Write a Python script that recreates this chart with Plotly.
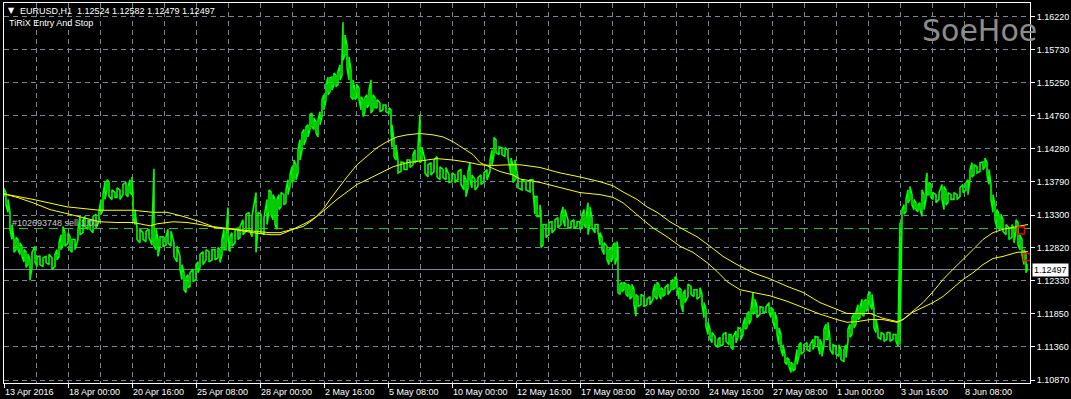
import plotly.graph_objects as go

# ---------------- data ----------------
bar = [0,2,4,6,8,10,12,14,16,18,
       20,22,24,26,28,31,33,36,39,42,
       45,48,51,53,55,57,59,61,64,66,
       68,71,74,76,79,81,84,86,89,92,
       95,97,99,101,103,105,108,111,113,116,
       119,122,124,126,128,129,131,133,136,139,
       142,145,148,150,152,154,156,159,162,164,
       167,170,173,176,178,180,182,184,186,189,
       192,194,196,199,202,205,208,211,214,216,
       218,220,222,224,226,228,231,234,236,239,
       242,245,248,252,254,257,260,263,265,267,
       269,271,273,275,277,280,282,284,286,288,
       290,292,294,296,298,300,302,304,306,308,
       310,312,314,316,318,320,322,324,326,328,
       330,332,334,336,338,339,341,343,345,347,
       349,351,353,355,357,359,361,363,365,367,
       369,371,373,376,379,382,385,387,388,390,
       392,394,397,400,403,406,409,411,414,416,
       418,421,424,427,430,433,436,439,442,445,
       448,451,454,457,460,462,464,466,468,471,
       474,477,480,483,486,488,490,492,495,498,
       501,504,507,509,511,514,518,522,526,529,
       531,533,536,537,539,542,545,548,551,554,
       557,559,561,564,567,570,573,576,578,580,
       582,584,586,588,591,594,596,598,600,603,
       605,607,609,611,613,614,616,618,620,622,
       624,626,628,630,632,634,637,640,643,646,
       649,651,653,655,657,659,661,664,667,669,
       671,673,675,677,679,681,684,687,690,693,
       696,698,700,702,704,706,708,711,714,716,
       719,722,725,727,729,732,734,737,739,741,
       743,745,747,749,751,753,756,759,762,765,
       767,769,771,773,775,777,779,781,783,785,
       787,789,791,793,795,797,800,803,806,809,
       811,814,816,818,820,822,824,826,829,832,
       835,837,840,842,844,846,848,850,852,854,
       856,858,860,862,864,866,868,870,872,874,
       877,880,883,886,889,892,894,896,898,900,
       902,904,906,908,910,912,914,916,918,920,
       922,923,925,927,929,932,935,938,940,942,
       944,947,950,953,956,959,962,964,966,968,
       970,973,976,979,981,983,985,987,989,991,
       993,995,997,999,1002,1005,1008,1010,1012,1014,
       1016,1018,1020,1022,1023]

high = [1.1369,1.1363,1.1353,1.1334,1.1316,1.1294,1.1297,1.1294,1.1289,1.1284,
        1.1279,1.1276,1.1272,1.1264,1.1275,1.1284,1.1269,1.1269,1.1267,1.1269,
        1.1272,1.1267,1.1272,1.1279,1.1289,1.1301,1.1313,1.1304,1.1304,1.1298,
        1.1294,1.1294,1.1309,1.1328,1.1323,1.1328,1.1323,1.1320,1.1328,1.1331,
        1.1335,1.1353,1.1360,1.1379,1.1382,1.1379,1.1367,1.1363,1.1370,1.1367,
        1.1375,1.1378,1.1372,1.1382,1.1386,1.1360,1.1338,1.1311,1.1309,1.1304,
        1.1306,1.1309,1.1309,1.1398,1.1309,1.1294,1.1298,1.1298,1.1298,1.1309,
        1.1306,1.1289,1.1284,1.1269,1.1257,1.1245,1.1238,1.1242,1.1245,1.1250,
        1.1257,1.1261,1.1272,1.1276,1.1279,1.1276,1.1279,1.1279,1.1282,1.1279,
        1.1294,1.1309,1.1301,1.1341,1.1298,1.1304,1.1309,1.1311,1.1313,1.1323,
        1.1331,1.1334,1.1328,1.1363,1.1334,1.1331,1.1326,1.1353,1.1367,1.1364,
        1.1360,1.1353,1.1353,1.1360,1.1363,1.1360,1.1367,1.1382,1.1389,1.1401,
        1.1411,1.1404,1.1426,1.1441,1.1451,1.1456,1.1460,1.1463,1.1478,1.1480,
        1.1473,1.1467,1.1470,1.1482,1.1500,1.1507,1.1522,1.1533,1.1532,1.1533,
        1.1539,1.1536,1.1541,1.1551,1.1561,1.1614,1.1595,1.1580,1.1563,1.1544,
        1.1529,1.1514,1.1522,1.1517,1.1504,1.1500,1.1503,1.1507,1.1514,1.1529,
        1.1507,1.1503,1.1500,1.1495,1.1492,1.1492,1.1488,1.1485,1.1463,1.1441,
        1.1433,1.1411,1.1408,1.1407,1.1411,1.1411,1.1419,1.1426,1.1430,1.1478,
        1.1430,1.1411,1.1404,1.1407,1.1411,1.1416,1.1401,1.1397,1.1400,1.1389,
        1.1392,1.1389,1.1394,1.1397,1.1389,1.1382,1.1394,1.1407,1.1389,1.1382,
        1.1385,1.1389,1.1392,1.1397,1.1411,1.1426,1.1444,1.1441,1.1430,1.1429,
        1.1429,1.1426,1.1414,1.1404,1.1411,1.1385,1.1382,1.1378,1.1382,1.1382,
        1.1357,1.1357,1.1345,1.1334,1.1316,1.1316,1.1319,1.1320,1.1323,1.1326,
        1.1331,1.1342,1.1338,1.1323,1.1320,1.1323,1.1320,1.1320,1.1331,1.1338,
        1.1326,1.1348,1.1342,1.1326,1.1316,1.1316,1.1304,1.1297,1.1289,1.1284,
        1.1279,1.1282,1.1286,1.1289,1.1291,1.1279,1.1228,1.1231,1.1231,1.1228,
        1.1228,1.1225,1.1228,1.1220,1.1213,1.1210,1.1213,1.1210,1.1206,1.1210,
        1.1217,1.1228,1.1231,1.1228,1.1223,1.1220,1.1223,1.1228,1.1231,1.1235,
        1.1239,1.1235,1.1223,1.1220,1.1213,1.1220,1.1228,1.1225,1.1220,1.1220,
        1.1223,1.1213,1.1201,1.1191,1.1172,1.1162,1.1157,1.1151,1.1147,1.1150,
        1.1154,1.1157,1.1154,1.1154,1.1150,1.1159,1.1164,1.1162,1.1169,1.1179,
        1.1184,1.1188,1.1191,1.1216,1.1206,1.1195,1.1195,1.1194,1.1195,1.1201,
        1.1194,1.1191,1.1187,1.1176,1.1164,1.1154,1.1139,1.1125,1.1120,1.1117,
        1.1113,1.1110,1.1113,1.1132,1.1139,1.1142,1.1139,1.1142,1.1139,1.1147,
        1.1151,1.1150,1.1147,1.1139,1.1162,1.1169,1.1172,1.1147,1.1139,1.1137,
        1.1139,1.1132,1.1132,1.1139,1.1162,1.1169,1.1179,1.1184,1.1187,1.1198,
        1.1194,1.1206,1.1203,1.1206,1.1213,1.1217,1.1213,1.1191,1.1176,1.1162,
        1.1157,1.1154,1.1157,1.1157,1.1154,1.1154,1.1150,1.1319,1.1338,1.1345,
        1.1353,1.1367,1.1372,1.1360,1.1353,1.1348,1.1345,1.1348,1.1367,1.1360,
        1.1382,1.1392,1.1378,1.1375,1.1363,1.1360,1.1363,1.1375,1.1372,1.1367,
        1.1363,1.1360,1.1363,1.1360,1.1370,1.1375,1.1378,1.1382,1.1397,1.1407,
        1.1404,1.1401,1.1407,1.1408,1.1414,1.1407,1.1397,1.1375,1.1360,1.1345,
        1.1338,1.1331,1.1331,1.1323,1.1316,1.1311,1.1316,1.1309,1.1323,1.1319,
        1.1301,1.1294,1.1279,1.1272,1.1258]

low = [1.1357,1.1345,1.1334,1.1309,1.1294,1.1275,1.1279,1.1279,1.1272,1.1269,
       1.1261,1.1253,1.1257,1.1234,1.1253,1.1261,1.1254,1.1257,1.1254,1.1260,
       1.1257,1.1250,1.1254,1.1264,1.1269,1.1279,1.1286,1.1284,1.1289,1.1279,
       1.1275,1.1279,1.1294,1.1301,1.1304,1.1313,1.1309,1.1309,1.1304,1.1311,
       1.1320,1.1331,1.1338,1.1353,1.1367,1.1357,1.1353,1.1356,1.1356,1.1353,
       1.1360,1.1360,1.1357,1.1363,1.1360,1.1326,1.1316,1.1294,1.1289,1.1294,
       1.1291,1.1297,1.1286,1.1284,1.1279,1.1269,1.1284,1.1284,1.1286,1.1289,
       1.1284,1.1269,1.1261,1.1250,1.1235,1.1220,1.1216,1.1223,1.1225,1.1232,
       1.1235,1.1245,1.1253,1.1257,1.1264,1.1261,1.1264,1.1264,1.1267,1.1260,
       1.1272,1.1279,1.1279,1.1294,1.1276,1.1284,1.1289,1.1294,1.1297,1.1301,
       1.1306,1.1309,1.1298,1.1275,1.1309,1.1304,1.1301,1.1316,1.1335,1.1331,
       1.1323,1.1316,1.1309,1.1338,1.1342,1.1345,1.1348,1.1360,1.1372,1.1378,
       1.1382,1.1382,1.1392,1.1411,1.1426,1.1433,1.1441,1.1445,1.1456,1.1460,
       1.1456,1.1451,1.1445,1.1463,1.1475,1.1485,1.1500,1.1507,1.1511,1.1514,
       1.1522,1.1519,1.1522,1.1529,1.1536,1.1558,1.1566,1.1548,1.1529,1.1504,
       1.1500,1.1500,1.1503,1.1500,1.1485,1.1475,1.1482,1.1488,1.1492,1.1480,
       1.1485,1.1488,1.1488,1.1482,1.1485,1.1482,1.1480,1.1456,1.1430,1.1416,
       1.1411,1.1392,1.1394,1.1397,1.1397,1.1400,1.1404,1.1407,1.1411,1.1407,
       1.1411,1.1392,1.1386,1.1389,1.1394,1.1386,1.1382,1.1385,1.1382,1.1378,
       1.1379,1.1378,1.1382,1.1375,1.1367,1.1357,1.1370,1.1382,1.1370,1.1367,
       1.1372,1.1375,1.1378,1.1382,1.1394,1.1404,1.1419,1.1422,1.1419,1.1419,
       1.1416,1.1414,1.1389,1.1378,1.1382,1.1370,1.1367,1.1367,1.1364,1.1367,
       1.1331,1.1328,1.1328,1.1282,1.1286,1.1297,1.1301,1.1304,1.1309,1.1311,
       1.1316,1.1323,1.1313,1.1311,1.1311,1.1311,1.1313,1.1309,1.1311,1.1316,
       1.1311,1.1301,1.1316,1.1311,1.1304,1.1306,1.1286,1.1279,1.1272,1.1264,
       1.1257,1.1261,1.1267,1.1257,1.1267,1.1216,1.1213,1.1217,1.1220,1.1213,
       1.1210,1.1206,1.1210,1.1198,1.1181,1.1195,1.1198,1.1195,1.1198,1.1198,
       1.1206,1.1210,1.1206,1.1213,1.1206,1.1210,1.1213,1.1213,1.1220,1.1220,
       1.1223,1.1220,1.1206,1.1198,1.1187,1.1201,1.1210,1.1213,1.1210,1.1206,
       1.1210,1.1198,1.1179,1.1166,1.1154,1.1147,1.1142,1.1139,1.1135,1.1137,
       1.1139,1.1144,1.1139,1.1135,1.1132,1.1142,1.1150,1.1147,1.1154,1.1162,
       1.1164,1.1169,1.1176,1.1184,1.1187,1.1179,1.1184,1.1187,1.1187,1.1187,
       1.1179,1.1173,1.1162,1.1154,1.1139,1.1132,1.1122,1.1113,1.1110,1.1107,
       1.1098,1.1100,1.1103,1.1110,1.1122,1.1125,1.1129,1.1132,1.1129,1.1132,
       1.1139,1.1137,1.1125,1.1122,1.1139,1.1147,1.1147,1.1132,1.1125,1.1125,
       1.1122,1.1117,1.1114,1.1120,1.1144,1.1150,1.1154,1.1164,1.1169,1.1176,
       1.1179,1.1184,1.1181,1.1188,1.1191,1.1198,1.1191,1.1164,1.1157,1.1150,
       1.1147,1.1144,1.1147,1.1144,1.1147,1.1144,1.1137,1.1139,1.1320,1.1331,
       1.1335,1.1348,1.1353,1.1345,1.1338,1.1338,1.1335,1.1338,1.1328,1.1338,
       1.1353,1.1360,1.1360,1.1356,1.1353,1.1348,1.1353,1.1353,1.1338,1.1345,
       1.1348,1.1353,1.1353,1.1353,1.1357,1.1363,1.1367,1.1360,1.1382,1.1386,
       1.1389,1.1392,1.1394,1.1397,1.1401,1.1389,1.1375,1.1353,1.1334,1.1323,
       1.1311,1.1309,1.1311,1.1306,1.1301,1.1294,1.1297,1.1289,1.1306,1.1286,
       1.1279,1.1272,1.1257,1.1245,1.1248]

ma_fast_bar = [0,13,29,46,63,79,96,113,129,146,
               153,169,183,196,213,229,249,266,276,289,
               299,309,319,326,333,343,353,363,373,383,
               393,403,416,429,439,449,459,469,476,486,
               496,509,516,536,556,576,596,609,619,629,
               639,649,663,676,689,703,713,723,736,749,
               766,783,799,816,833,843,853,866,879,893,
               899,909,919,929,939,949,959,969,979,989,
               999,1013,1024]
ma_fast = [1.1361,1.1356,1.1348,1.1338,1.1332,1.1326,1.1320,1.1319,1.1319,1.1314,
           1.1317,1.1320,1.1319,1.1316,1.1311,1.1309,1.1306,1.1304,1.1304,1.1309,
           1.1313,1.1323,1.1338,1.1353,1.1367,1.1386,1.1404,1.1416,1.1429,1.1438,
           1.1445,1.1448,1.1450,1.1448,1.1445,1.1438,1.1429,1.1419,1.1407,1.1400,
           1.1394,1.1389,1.1383,1.1378,1.1370,1.1363,1.1360,1.1356,1.1348,1.1335,
           1.1323,1.1311,1.1298,1.1284,1.1275,1.1260,1.1247,1.1232,1.1220,1.1216,
           1.1211,1.1203,1.1194,1.1184,1.1176,1.1172,1.1173,1.1176,1.1176,1.1172,
           1.1176,1.1188,1.1201,1.1217,1.1235,1.1250,1.1264,1.1279,1.1294,1.1304,
           1.1309,1.1313,1.1316]

ma_slow_bar = [0,29,63,96,129,149,163,179,196,209,
               229,249,266,276,289,303,313,323,333,343,
               353,363,376,389,403,416,433,449,463,476,
               489,506,516,536,556,576,596,609,619,633,
               643,653,666,679,693,706,719,733,749,766,
               783,799,816,833,843,853,866,879,893,899,
               909,919,929,939,949,959,969,979,989,999,
               1013,1024]
ma_slow = [1.1361,1.1353,1.1342,1.1337,1.1337,1.1334,1.1334,1.1328,1.1320,1.1313,
           1.1309,1.1304,1.1301,1.1301,1.1309,1.1319,1.1328,1.1341,1.1353,1.1364,
           1.1375,1.1382,1.1392,1.1401,1.1407,1.1410,1.1413,1.1411,1.1408,1.1404,
           1.1403,1.1404,1.1404,1.1400,1.1392,1.1386,1.1379,1.1373,1.1364,1.1353,
           1.1342,1.1334,1.1320,1.1309,1.1298,1.1284,1.1269,1.1257,1.1245,1.1236,
           1.1225,1.1216,1.1201,1.1191,1.1185,1.1185,1.1185,1.1178,1.1173,1.1176,
           1.1187,1.1194,1.1201,1.1210,1.1223,1.1235,1.1245,1.1257,1.1266,1.1269,
           1.1275,1.1276]

xtick_bars = [0, 64, 128, 192, 256, 320, 384, 448, 512, 576, 640, 704, 768, 832, 896, 960]
xtick_labels = ["13 Apr 2016", "18 Apr 00:00", "20 Apr 16:00", "25 Apr 08:00",
                "28 Apr 00:00", "2 May 16:00", "5 May 08:00", "10 May 00:00",
                "12 May 16:00", "17 May 08:00", "20 May 00:00", "24 May 16:00",
                "27 May 08:00", "1 Jun 00:00", "3 Jun 16:00", "8 Jun 08:00"]
price_ticks = [1.10870, 1.11360, 1.11850, 1.12330, 1.12820, 1.13300,
               1.13790, 1.14280, 1.14760, 1.15250, 1.15730, 1.16220]

bid_price = 1.12497
order_price = 1.1310
order_label = "#102693748 sell 1.00"
header_text = "EURUSD,H1  1.12524 1.12582 1.12479 1.12497"
trade_bars = [1017, 1023]
trade_prices = [1.1307, 1.1268]

assert len(bar) == len(high) == len(low)
assert len(ma_fast_bar) == len(ma_fast) and len(ma_slow_bar) == len(ma_slow)

# ---------------- figure ----------------
W, H = 1071, 399
ML, MR, MT, MB = 4, 41, 3, 16
PW, PH = W - ML - MR, H - MT - MB


def px(xp):
    return (xp - ML) / PW


def py(yp):
    return (H - MB - yp) / PH


gx, gy = [], []
for k, (b, h, l) in enumerate(zip(bar, high, low)):
    gx += [b, b]
    gy += [l, h] if k % 2 == 0 else [h, l]

GRID = "#778899"
FONT = "Liberation Sans, Arial, sans-serif"
FS = 9

fig = go.Figure()
fig.add_trace(go.Scatter(x=gx, y=gy, mode="lines",
                         line=dict(color="#00ff00", width=1.6), hoverinfo="skip"))
fig.add_trace(go.Scatter(x=ma_slow_bar, y=ma_slow, mode="lines",
                         line=dict(color="#ffff00", width=1), hoverinfo="skip"))
fig.add_trace(go.Scatter(x=ma_fast_bar, y=ma_fast, mode="lines",
                         line=dict(color="#ffff00", width=1), hoverinfo="skip"))
fig.add_trace(go.Scatter(x=trade_bars, y=trade_prices, mode="markers",
                         marker=dict(symbol="square-open", size=7, color="#ff0000",
                                     line=dict(width=1.5, color="#ff0000")),
                         hoverinfo="skip"))

fig.add_shape(type="line", xref="paper", x0=0, x1=1, yref="y", y0=bid_price, y1=bid_price,
              line=dict(color=GRID, width=1), layer="below")
fig.add_shape(type="line", xref="paper", x0=0, x1=1, yref="y", y0=order_price, y1=order_price,
              line=dict(color="#32cd32", width=1, dash="9px,6px"), layer="below")

ann = [
    dict(x=px(6), y=py(11), text="▼", font=dict(size=8, color="white", family="DejaVu Sans")),
    dict(x=px(18), y=py(11), text=header_text, font=dict(size=FS, color="white", family=FONT)),
    dict(x=px(7), y=py(23), text="TiRiX Entry And Stop", font=dict(size=FS, color="white", family=FONT)),
    dict(x=px(10), y=py(223), text=order_label, font=dict(size=FS, color="#c8c8c8", family=FONT)),
    dict(x=px(920), y=py(30), text="SoeHoe", font=dict(size=30, color="#8c8c8c", family="DejaVu Sans")),
]
for a in ann:
    fig.add_annotation(xref="paper", yref="paper", xanchor="left", yanchor="middle",
                       showarrow=False, **a)

fig.add_annotation(xref="paper", x=1, xanchor="left", xshift=2, yref="y", y=bid_price,
                   yanchor="middle", text=f"{bid_price:.5f}", showarrow=False,
                   bgcolor="white", borderpad=1,
                   font=dict(size=FS, color="black", family=FONT))

fig.update_layout(
    width=W, height=H, margin=dict(l=ML, r=MR, t=MT, b=MB, autoexpand=False),
    paper_bgcolor="black", plot_bgcolor="black", showlegend=False,
    font=dict(family=FONT, size=FS, color="white"),
    xaxis=dict(range=[0, 1026], tickmode="array", tickvals=xtick_bars, ticktext=xtick_labels,
               ticks="outside", ticklen=4, tickcolor="white", tickwidth=1, tickangle=0,
               ticklabelposition="outside right", automargin=False,
               showline=True, linecolor="white", linewidth=1, mirror=True,
               showgrid=True, gridcolor=GRID, griddash="5px,4px", gridwidth=1, zeroline=False,
               minor=dict(tickmode="linear", tick0=32, dtick=64, showgrid=True,
                          gridcolor=GRID, griddash="5px,4px", gridwidth=1, ticks=""),
               tickfont=dict(size=FS, color="white", family=FONT)),
    yaxis=dict(side="right", range=[1.10826, 1.16422], tickmode="array", tickvals=price_ticks,
               ticktext=[f"{v:.5f}" for v in price_ticks], automargin=False,
               ticks="outside", ticklen=4, tickcolor="white", tickwidth=1,
               showline=True, linecolor="white", linewidth=1, mirror=True,
               showgrid=True, gridcolor=GRID, griddash="5px,4px", gridwidth=1, zeroline=False,
               tickfont=dict(size=FS, color="white", family=FONT)),
)

fig.write_html("out.html")
